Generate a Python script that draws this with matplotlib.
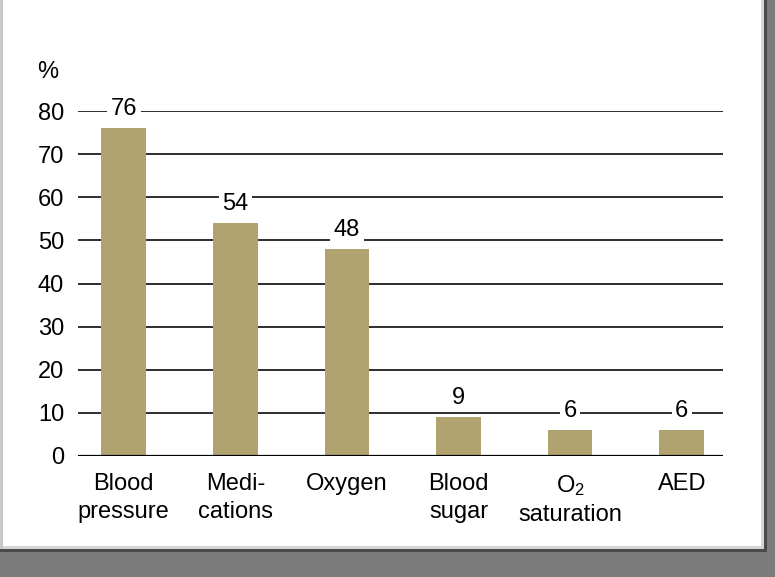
import matplotlib
matplotlib.use("Agg")
import matplotlib.pyplot as plt
from matplotlib.patches import Rectangle

plt.rcParams['font.family'] = ['Liberation Sans', 'DejaVu Sans']
plt.rcParams['mathtext.fontset'] = 'custom'
plt.rcParams['mathtext.rm'] = 'Liberation Sans'

categories = ["Blood\npressure", "Medi-\ncations", "Oxygen", "Blood\nsugar",
              "$\\mathregular{O_2}$\nsaturation", "AED"]
values = [76, 54, 48, 9, 6, 6]
yticks = [0, 10, 20, 30, 40, 50, 60, 70, 80]

W, H = 775, 577
FS = 17
fig = plt.figure(figsize=(W/100, H/100), dpi=100)
fig.patch.set_facecolor('white')

# screenshot-like frame (grey strip at right and bottom)
fig.patches.append(Rectangle((0, 0), 1, 25/H, transform=fig.transFigure,
                             facecolor='#7b7b7b', edgecolor='none', zorder=-5))
fig.patches.append(Rectangle((767/W, 0), 8/W, 1, transform=fig.transFigure,
                             facecolor='#7b7b7b', edgecolor='none', zorder=-5))
fig.patches.append(Rectangle((0, 25/H), 767/W, 3/H, transform=fig.transFigure,
                             facecolor='#4a4a4a', edgecolor='none', zorder=-4))
fig.patches.append(Rectangle((764/W, 25/H), 3/W, 1 - 25/H, transform=fig.transFigure,
                             facecolor='#4a4a4a', edgecolor='none', zorder=-4))
fig.patches.append(Rectangle((0, 28/H), 764/W, 3/H, transform=fig.transFigure,
                             facecolor='#d6d6d6', edgecolor='none', zorder=-4))
fig.patches.append(Rectangle((761/W, 28/H), 3/W, 1 - 28/H, transform=fig.transFigure,
                             facecolor='#d6d6d6', edgecolor='none', zorder=-4))
fig.patches.append(Rectangle((0, 28/H), 3/W, 1 - 28/H, transform=fig.transFigure,
                             facecolor='#c8c8c8', edgecolor='none', zorder=-4))

# axes: x 78..723 px, y 0 at 456 px, 80 at 111 px
ax = fig.add_axes([78/W, (H-456)/H, (723-78)/W, (456-111)/H])
ax.set_facecolor('none')
x = range(len(values))
ax.bar(x, values, width=0.4, color='#b0a370', zorder=3)
ax.set_xlim(-0.41, 5.37)
ax.set_ylim(0, 80)

for v in yticks[1:]:
    ax.axhline(v, color='#2e2e2e', lw=1.4, zorder=1)
ax.axhline(0, color='black', lw=1.6, zorder=4)

for xi, v in zip(x, values):
    ax.annotate(str(v), (xi, v), xytext=(0, 14), textcoords='offset points',
                ha='center', va='center', fontsize=FS, zorder=5,
                bbox=dict(boxstyle='square,pad=0.15', fc='white', ec='none'))

for s in ax.spines.values():
    s.set_visible(False)
ax.set_yticks(yticks)
ax.set_yticklabels([str(t) for t in yticks], fontsize=FS)
ax.tick_params(axis='y', length=0, pad=10)
ax.set_xticks(list(x))
ax.set_xticklabels(categories, fontsize=FS, linespacing=1.4, va='top')
ax.tick_params(axis='x', length=0, pad=12)

fig.text(48/W, (H-72)/H, '%', fontsize=FS, ha='center', va='center')

fig.savefig('out.png', dpi=100)
